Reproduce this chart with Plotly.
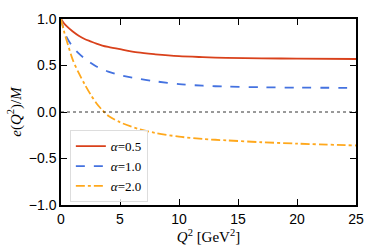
import plotly.graph_objects as go

q2 = [0, 0.25, 0.5, 1, 1.5, 2, 2.5, 3, 3.5, 4, 5, 6.5, 8, 10, 12, 14, 17, 20, 25]
e_a05 = [1.0, 0.955, 0.92, 0.865, 0.82, 0.785, 0.76, 0.735, 0.715, 0.70, 0.675, 0.64, 0.62, 0.60, 0.59, 0.582, 0.577, 0.574, 0.57]
e_a10 = [1.0, 0.88, 0.80, 0.70, 0.63, 0.575, 0.53, 0.49, 0.46, 0.435, 0.395, 0.36, 0.33, 0.30, 0.283, 0.273, 0.266, 0.262, 0.26]
e_a20 = [1.0, 0.87, 0.76, 0.56, 0.42, 0.30, 0.19, 0.095, 0.02, -0.04, -0.11, -0.18, -0.225, -0.265, -0.29, -0.305, -0.325, -0.34, -0.36]

labels = ["<i>α</i>=0.5", "<i>α</i>=1.0", "<i>α</i>=2.0"]
colors = ["#D9411B", "#4472E0", "#FFA81C"]
dashes = ["solid", "dash", "dashdot"]
series = [e_a05, e_a10, e_a20]

fig = go.Figure()
for ys, lab, col, d in zip(series, labels, colors, dashes):
    fig.add_trace(go.Scatter(x=q2, y=ys, mode="lines", name=lab,
                             line=dict(color=col, width=1.8, dash=d, shape="spline", smoothing=0.8)))

fig.add_hline(y=0, line=dict(color="black", width=0.8, dash="dot"))

axis_common = dict(showline=True, linecolor="black", linewidth=1.5, mirror="ticks",
                   ticks="inside", ticklen=6, tickwidth=1.2, tickcolor="black",
                   showgrid=False, zeroline=False,
                   tickfont=dict(family="Liberation Sans, Arial", size=14, color="black"))

fig.update_layout(
    width=374, height=249,
    margin=dict(l=61, r=10, t=19, b=43),
    paper_bgcolor="white", plot_bgcolor="white",
    showlegend=True,
    legend=dict(x=0.03, y=0.015, xanchor="left", yanchor="bottom",
                bgcolor="rgba(255,255,255,0.8)", bordercolor="#DDDDDD", borderwidth=1,
                font=dict(family="Liberation Serif, Times New Roman", size=13, color="black"),
                itemwidth=30, tracegroupgap=0),
    xaxis=dict(range=[0, 25], tickvals=[0, 5, 10, 15, 20, 25],
               title=dict(text="<i>Q</i><sup>2</sup> [GeV<sup>2</sup>]", standoff=2,
                          font=dict(family="Liberation Serif, Times New Roman", size=15, color="black")),
               **axis_common),
    yaxis=dict(range=[-1, 1], tickvals=[-1, -0.5, 0, 0.5, 1], tickformat=".1f",
               title=dict(text="<i>e</i>(<i>Q</i><sup>2</sup>)/<i>M</i>", standoff=4,
                          font=dict(family="Liberation Serif, Times New Roman", size=15, color="black")),
               **axis_common),
)

fig.write_html("out.html", config={"displayModeBar": False},
               post_script="document.body.style.margin='0';document.body.style.overflow='hidden';")
